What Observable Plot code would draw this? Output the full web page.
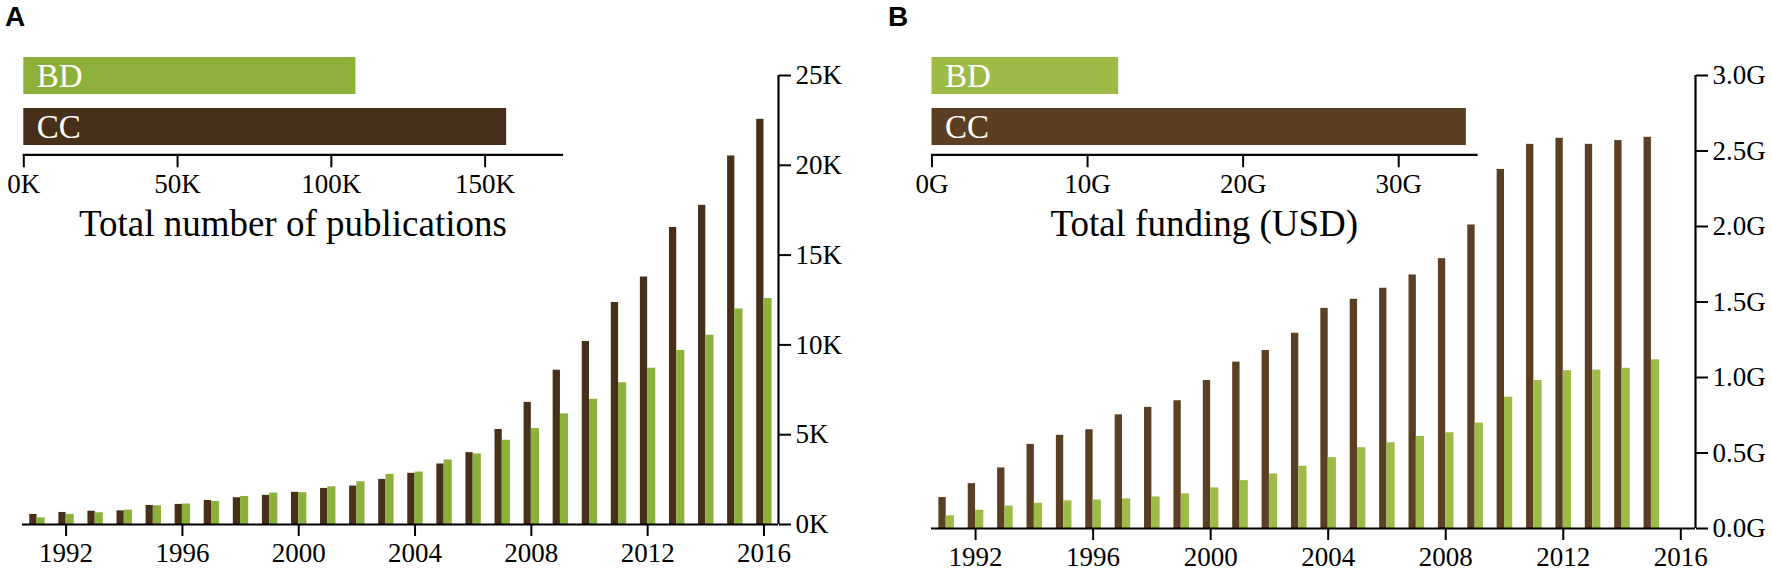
<!DOCTYPE html>
<html><head><meta charset="utf-8">
<script src="https://cdn.jsdelivr.net/npm/d3@7"></script>
<script src="https://cdn.jsdelivr.net/npm/@observablehq/plot@0.6"></script>
<style>
html,body{margin:0;padding:0;background:#fff;}
#wrap{position:relative;width:1772px;height:575px;overflow:hidden;background:#fff;}
#wrap svg{font-family:"Liberation Serif","Times New Roman",serif !important;font-size:27px !important;}
#wrap svg text{font-family:"Liberation Serif","Times New Roman",serif !important;}
.panel{position:absolute;top:1px;font:bold 28px "Liberation Sans",Arial,sans-serif;color:#000;}
</style></head><body>
<div id="wrap">
  <div class="panel" style="left:5px;">A</div>
  <div class="panel" style="left:888px;">B</div>
</div>
<script>
// ---- data ----
const pubYears = [1991,1992,1993,1994,1995,1996,1997,1998,1999,2000,2001,2002,2003,2004,2005,2006,2007,2008,2009,2010,2011,2012,2013,2014,2015,2016];
const pubCC = [0.56,0.67,0.74,0.76,1.06,1.12,1.34,1.49,1.62,1.79,2.01,2.14,2.51,2.85,3.37,4.00,5.29,6.80,8.59,10.19,12.36,13.78,16.54,17.77,20.52,22.56]; // thousands
const pubBD = [0.37,0.56,0.65,0.80,1.04,1.14,1.28,1.56,1.75,1.77,2.10,2.38,2.79,2.92,3.59,3.93,4.69,5.34,6.16,6.97,7.89,8.70,9.69,10.54,12.00,12.58];

const fundYears = [1991,1992,1993,1994,1995,1996,1997,1998,1999,2000,2001,2002,2003,2004,2005,2006,2007,2008,2009,2010,2011,2012,2013,2014,2015];
const fundCC = [0.205,0.297,0.401,0.557,0.617,0.654,0.753,0.802,0.846,0.980,1.102,1.179,1.293,1.458,1.518,1.591,1.679,1.787,2.010,2.378,2.544,2.584,2.544,2.569,2.591]; // billions USD
const fundBD = [0.084,0.121,0.148,0.167,0.183,0.189,0.196,0.209,0.229,0.269,0.317,0.361,0.412,0.469,0.535,0.568,0.610,0.634,0.698,0.870,0.980,1.045,1.049,1.061,1.117];

const totalCats = ["BD","CC"];
const pubTotals = [108, 157];     // thousands
const fundTotals = [12.0, 34.35]; // billions USD

const yearTicks = [1992,1996,2000,2004,2008,2012,2016];
const pubYTicks = [0,5,10,15,20,25];
const fundYTicks = [0,0.5,1.0,1.5,2.0,2.5,3.0];
const pubTotalTicks = [0,50,100,150];
const fundTotalTicks = [0,10,20,30];

const pubTitle = "Total number of publications";
const fundTitle = "Total funding (USD)";

const colA = {CC:"#46301a", BD:"#8db03a"};
const colB = {CC:"#5a3f22", BD:"#9dbb46"};

// ---- helpers ----
const serif = "Liberation Serif";
const baseStyle = {background:"transparent", color:"#000", overflow:"visible", maxWidth:"none"};
const wrap = document.getElementById("wrap");
function place(el, left) {
  el.style.position = "absolute";
  el.style.left = left + "px";
  el.style.top = "0px";
  wrap.appendChild(el);
}

function mainChart(years, cc, bd, col, yDomain, yTicks, yFmt, opts) {
  const rows = years.map((y,i)=>({year:y, cc:cc[i], bd:bd[i]}));
  return Plot.plot({
    width: opts.width, height: 575,
    marginLeft: opts.ml, marginRight: opts.mr, marginTop: 75, marginBottom: opts.mb,
    style: baseStyle,
    x: {domain:[1990.5, 2016.5]},
    y: {domain: yDomain},
    marks: [
      Plot.rectY(rows, {x1: d=>d.year-0.25, x2: d=>d.year, y1: 0, y2: "cc", fill: col.CC}),
      Plot.rectY(rows, {x1: d=>d.year, x2: d=>d.year+0.28, y1: 0, y2: "bd", fill: col.BD}),
      Plot.ruleY([0], {stroke:"#000", strokeWidth:2.2}),
      Plot.ruleX([2016.5], {stroke:"#000", strokeWidth:2.2}),
      Plot.axisX({ticks: yearTicks, tickFormat: d=>String(d), tickSize: 12, tickPadding: 6, strokeWidth: 2, label: null, fontSize: 27, fontFamily: serif}),
      Plot.axisY({anchor:"right", ticks: yTicks, tickFormat: yFmt, tickSize: 12, tickPadding: 5, strokeWidth: 2, label: null, fontSize: 27, fontFamily: serif})
    ]
  });
}

function inset(values, col, xMax, xTicks, xFmt, title, opts) {
  const rows = totalCats.map((c,i)=>({cat:c, value:values[i]}));
  return Plot.plot({
    width: opts.width, height: 260,
    marginLeft: opts.ml, marginRight: opts.mr, marginTop: 56, marginBottom: 105.7,
    style: baseStyle,
    x: {domain:[0, xMax]},
    y: {domain: totalCats, range:[56.7, 146], paddingInner: 0.27, paddingOuter: 0, axis: null},
    color: {domain: totalCats, range: [col.BD, col.CC]},
    marks: [
      Plot.barX(rows, {x: "value", y: "cat", fill: "cat"}),
      Plot.text(rows, {x: 0, y: "cat", text: "cat", dx: 13, textAnchor: "start", fill: "white", fontSize: 33, fontFamily: serif}),
      Plot.frame({anchor: "bottom", stroke: "#000", strokeWidth: 2.2}),
      Plot.axisX({ticks: xTicks, tickFormat: xFmt, tickSize: 13, tickPadding: 6, strokeWidth: 2, label: null, fontSize: 27, fontFamily: serif}),
      Plot.text([title], {frameAnchor: "bottom", dy: 80.7, lineAnchor: "bottom", fontSize: 37, fill: "#000", fontFamily: serif})
    ]
  });
}

place(mainChart(pubYears, pubCC, pubBD, colA, [0,25], pubYTicks, d=>d+"K", {width:880, ml:22, mr:102, mb:51}), 0);
place(mainChart(fundYears, fundCC, fundBD, colB, [0,3], fundYTicks, d=>d.toFixed(1)+"G", {width:892, ml:51, mr:77, mb:47}), 880);
place(inset(pubTotals, colA, 175, pubTotalTicks, d=>d+"K", pubTitle, {width:600, ml:23.3, mr:38.5}), 0);
place(inset(fundTotals, colB, 35, fundTotalTicks, d=>d+"G", fundTitle, {width:610, ml:51.5, mr:14}), 880);
</script>
</body></html>
